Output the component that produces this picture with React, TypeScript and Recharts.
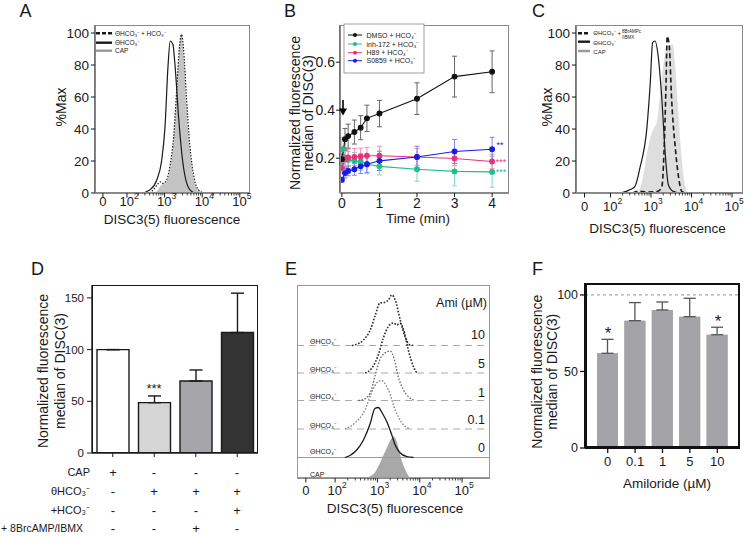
import React from "react";
import {
  ComposedChart,
  BarChart,
  Bar,
  Line,
  Area,
  XAxis,
  YAxis,
  ErrorBar,
  Cell,
  ReferenceLine,
} from "recharts";

const FONT = "'Liberation Sans', Arial, Helvetica, sans-serif";
const INK = "#1a1a1a";

// ---- logicle x axis (positions in decades) ----
const logTicks = [1.36, 2, 3, 4, 5];
const logTicksE = [1.31, 2, 3, 4, 5];
const logTickLabels = ["0", "10²", "10³", "10⁴", "10⁵"];
const supDigit: Record<string, string> = { "²": "2", "³": "3", "⁴": "4", "⁵": "5" };
const minorTicks = [2, 3, 4].flatMap((d) =>
  [2, 3, 4, 5, 6, 7, 8, 9].map((k) => d + Math.log10(k))
);

// ---- panel A: %Max histograms ----
const aTheta = [[2.45, 0], [2.53, 1], [2.61, 2], [2.79, 8], [2.92, 20], [3.01, 41], [3.09, 79], [3.15, 95], [3.22, 93], [3.28, 79], [3.37, 48], [3.48, 20], [3.59, 6], [3.72, 1], [3.85, 0]];
const aThetaHco3 = [[2.6, 0], [2.7, 2], [2.8, 5], [2.88, 7], [2.95, 6], [3.05, 8], [3.15, 18], [3.24, 35], [3.33, 68], [3.39, 90], [3.45, 99], [3.51, 88], [3.58, 60], [3.67, 30], [3.78, 10], [3.9, 2], [4.05, 0]];
const aCap = [[2.75, 0], [2.79, 1], [2.92, 5], [3.03, 6.5], [3.15, 16], [3.24, 33], [3.33, 66], [3.39, 89], [3.44, 100], [3.5, 87], [3.57, 58], [3.66, 29], [3.77, 9], [3.9, 1.5], [4.03, 0]];

// ---- panel C ----
const cTheta = [[2.25, 0], [2.48, 2], [2.6, 4], [2.73, 16], [2.9, 41], [2.98, 68], [3.04, 94], [3.1, 95], [3.18, 85], [3.27, 58], [3.35, 25], [3.43, 5], [3.55, 1], [3.72, 0]];
const cThetaBr = [[2.55, 0], [2.7, 1.2], [2.9, 0.6], [3.12, 0.8], [3.2, 1.5], [3.27, 4], [3.32, 25], [3.37, 67], [3.4, 98], [3.45, 92], [3.51, 58], [3.6, 28], [3.68, 10], [3.76, 1], [3.85, 0]];
const cCap = [[2.6, 0], [2.69, 1], [2.81, 11], [2.94, 30], [3.06, 40], [3.14, 44], [3.22, 60], [3.31, 81], [3.43, 92], [3.54, 93], [3.59, 81], [3.68, 48], [3.76, 21], [3.84, 5], [3.92, 0]];

// ---- panel B: time course ----
const bTimes = [0, 0.083, 0.167, 0.333, 0.5, 0.667, 1, 2, 3, 4];
const bDmso = [0.196, 0.279, 0.292, 0.309, 0.327, 0.366, 0.386, 0.448, 0.54, 0.56];
const bDmsoErr = [0.02, 0.045, 0.05, 0.05, 0.05, 0.055, 0.055, 0.066, 0.085, 0.087];
const bInh = [0.237, 0.203, 0.193, 0.189, 0.185, 0.175, 0.166, 0.154, 0.145, 0.143];
const bInhErr = [0.05, 0.04, 0.035, 0.035, 0.035, 0.04, 0.036, 0.05, 0.06, 0.064];
const bH89 = [0.159, 0.196, 0.203, 0.205, 0.207, 0.21, 0.21, 0.205, 0.199, 0.186];
const bH89Err = [0.02, 0.035, 0.035, 0.035, 0.035, 0.035, 0.04, 0.035, 0.03, 0.03];
const bS0859 = [0.11, 0.138, 0.147, 0.154, 0.166, 0.175, 0.189, 0.205, 0.228, 0.237];
const bS0859Err = [0.01, 0.02, 0.02, 0.025, 0.03, 0.035, 0.04, 0.045, 0.05, 0.05];

// ---- panel D ----
const dCats = ["CAP", "ThetaHCO3", "ThetaHCO3+Br", "ThetaHCO3+HCO3"];
const dValues = [100, 48.7, 69.7, 116.5];
const dErr = [0, 6.5, 10.6, 38.1];
const dFills = ["#ffffff", "#d5d5d5", "#a5a5aa", "#333333"];
const dRowLabels = ["CAP", "θHCO₃⁻", "+HCO₃⁻", "+ 8BrcAMP/IBMX"];
const dRowMarks = [
  ["+", "-", "-", "-"],
  ["-", "+", "+", "+"],
  ["-", "-", "-", "+"],
  ["-", "-", "+", "-"],
];

// ---- panel E: offset histograms (heights in %Max) ----
const eAmi = ["0", "0.1", "1", "5", "10"];
const eOffsets = [41, 98, 155, 210, 265];
const eCap = [[2.7, 0], [2.79, 2], [2.95, 12], [3.06, 30], [3.22, 60], [3.34, 80], [3.38, 83], [3.42, 80], [3.49, 63], [3.57, 36], [3.68, 13], [3.77, 1], [3.85, 0]];
const eAmi0 = [[2.23, 0], [2.35, 4], [2.51, 15], [2.67, 35], [2.83, 68], [2.94, 98], [3.02, 100], [3.12, 88], [3.24, 68], [3.34, 45], [3.42, 25], [3.54, 9], [3.69, 2], [3.85, 0]];
const eAmi01 = [[2.23, 0], [2.47, 12], [2.71, 39], [2.87, 75], [3.02, 95], [3.1, 97], [3.14, 95], [3.26, 78], [3.42, 38], [3.58, 12], [3.77, 0]];
const eAmi1 = [[2.55, 0], [2.67, 2], [2.83, 15], [2.94, 48], [3.06, 82], [3.18, 95], [3.3, 99], [3.4, 82], [3.49, 48], [3.61, 22], [3.77, 5], [3.89, 0]];
const eAmi5 = [[2.71, 0], [2.87, 10], [3.02, 36], [3.14, 70], [3.26, 93], [3.38, 100], [3.46, 96], [3.53, 100], [3.64, 80], [3.73, 46], [3.85, 13], [3.93, 0]];
const eAmi10 = [[2.4, 0], [2.47, 1.4], [2.67, 11], [2.83, 31], [2.94, 58], [3.06, 85], [3.16, 86], [3.26, 91], [3.34, 101], [3.42, 91], [3.54, 51], [3.65, 18], [3.77, 1.4], [3.85, 0]];

// ---- panel F ----
const fCats = ["0", "0.1", "1", "5", "10"];
const fValues = [61.9, 83.2, 90.2, 85.8, 74];
const fErr = [9.1, 11.8, 5.2, 12, 4.9];

const pts = (a: number[][], off = 0) => a.map(([x, y]) => ({ x, y: y + off }));

function place(x0: number, y0: number, x1: number, y1: number, yW: number, xH: number) {
  return {
    style: { position: "absolute" as const, left: x0 - yW, top: y0 - 5 },
    width: yW + (x1 - x0) + 5,
    height: 5 + (y1 - y0) + xH + 5,
    margin: { top: 5, right: 5, bottom: 5, left: 0 },
  };
}

function LogTick(props: any) {
  const { x, y, payload, majors, dy } = props;
  const i = majors.indexOf(payload.value);
  if (i < 0) return <line x1={x} x2={x} y1={y} y2={y + 2.5} stroke={INK} strokeWidth={0.8} />;
  const lab: string = logTickLabels[i];
  return (
    <g>
      <line x1={x} x2={x} y1={y} y2={y + 4.5} stroke={INK} strokeWidth={1} />
      {lab === "0" ? (
        <text x={x} y={y + dy} textAnchor="middle" dominantBaseline="central" fontSize={13} fill={INK} fontFamily={FONT}>
          0
        </text>
      ) : (
        <text x={x - 7.5} y={y + dy} dominantBaseline="central" fontSize={13} fill={INK} fontFamily={FONT}>
          10
          <tspan fontSize={8.5} dy={-5}>{supDigit[lab[2]]}</tspan>
        </text>
      )}
    </g>
  );
}

const axisLine = { stroke: INK, strokeWidth: 1.2 };
const yTick = (size: number) => ({ fontSize: size, fill: INK, fontFamily: FONT });

function Histo(props: {
  rect: [number, number, number, number];
  cap: number[][];
  capFill: string;
  solid: number[][];
  other: number[][];
  otherDash: string;
  otherWidth: number;
  dy: number;
}) {
  const [x0, y0, x1, y1] = props.rect;
  return (
    <ComposedChart {...place(x0, y0, x1, y1, 95, 30)}>
      <XAxis
        type="number"
        dataKey="x"
        domain={[1.15, 5.27]}
        ticks={[...logTicks, ...minorTicks]}
        interval={0}
        tickLine={false}
        tickSize={0}
        tickMargin={0}
        tick={<LogTick majors={logTicks} dy={props.dy} />}
        axisLine={axisLine}
        height={30}
        allowDataOverflow
      />
      <YAxis
        type="number"
        domain={[0, 105]}
        ticks={[0, 20, 40, 60, 80, 100]}
        width={95}
        tick={yTick(13.5)}
        tickSize={4}
        tickMargin={2}
        axisLine={axisLine}
        tickLine={{ stroke: INK }}
        allowDataOverflow
      />
      <Area data={pts(props.cap)} dataKey="y" type="monotone" fill={props.capFill} fillOpacity={1} stroke="none" isAnimationActive={false} />
      <Line data={pts(props.solid)} dataKey="y" type="monotone" stroke={INK} strokeWidth={1.2} dot={false} isAnimationActive={false} />
      <Line data={pts(props.other)} dataKey="y" type="monotone" stroke={INK} strokeWidth={props.otherWidth} strokeDasharray={props.otherDash} dot={false} isAnimationActive={false} />
    </ComposedChart>
  );
}

const bData = bTimes.map((t, i) => ({
  t,
  dmso: bDmso[i],
  dmsoErr: bDmsoErr[i],
  inh: bInh[i],
  inhErr: bInhErr[i],
  h89: bH89[i],
  h89Err: bH89Err[i],
  s0859: bS0859[i],
  s0859Err: bS0859Err[i],
}));

const bSeries = [
  { key: "inh", color: "#1fbf8c", err: "#7fdcb8" },
  { key: "h89", color: "#e6337c", err: "#f28bb3" },
  { key: "s0859", color: "#1a1ae8", err: "#8080f0" },
  { key: "dmso", color: "#111111", err: "#666666" },
];

function PanelB() {
  return (
    <ComposedChart {...place(340, 25, 509, 193, 50, 30)} data={bData}>
      <XAxis type="number" dataKey="t" domain={[-0.05, 4.45]} ticks={[0, 1, 2, 3, 4]} tick={yTick(14)} tickSize={4} tickMargin={1} axisLine={axisLine} tickLine={{ stroke: INK }} height={30} allowDataOverflow />
      <YAxis type="number" domain={[0.055, 0.755]} ticks={[0.2, 0.4, 0.6]} tickFormatter={(v: number) => v.toFixed(1)} width={50} tick={yTick(14)} tickSize={4} tickMargin={1} axisLine={axisLine} tickLine={{ stroke: INK }} allowDataOverflow />
      {bSeries.map((s) => (
        <Line key={s.key} dataKey={s.key} type="linear" stroke={s.color} strokeWidth={1.1} dot={{ r: 2.4, fill: s.color, stroke: s.color }} isAnimationActive={false}>
          <ErrorBar dataKey={s.key + "Err"} width={2.5} stroke={s.err} strokeWidth={1} />
        </Line>
      ))}
    </ComposedChart>
  );
}

const dData = dCats.map((c, i) => ({ c, v: dValues[i], e: [0, dErr[i]] }));

function PanelD() {
  return (
    <BarChart {...place(92, 285, 258, 453, 40, 10)} data={dData}>
      <XAxis dataKey="c" tickFormatter={() => ""} tickSize={4} axisLine={{ stroke: INK, strokeWidth: 1.4 }} tickLine={{ stroke: INK }} height={10} />
      <YAxis type="number" domain={[0, 162.5]} ticks={[0, 50, 100, 150]} width={40} tick={yTick(11.5)} tickSize={5} tickMargin={3} axisLine={{ stroke: INK, strokeWidth: 1.4 }} tickLine={{ stroke: INK }} allowDataOverflow />
      <Bar dataKey="v" barSize={32} stroke={INK} strokeWidth={1.4} isAnimationActive={false}>
        {dData.map((d, i) => (
          <Cell key={d.c} fill={dFills[i]} />
        ))}
        <ErrorBar dataKey="e" width={6.5} stroke={INK} strokeWidth={1.4} />
      </Bar>
    </BarChart>
  );
}

function PanelE() {
  const curves = [
    { d: eAmi0, color: INK, dash: undefined, w: 1.3 },
    { d: eAmi01, color: "#808080", dash: "1.6 1.6", w: 1.3 },
    { d: eAmi1, color: "#666666", dash: "1.6 1.6", w: 1.3 },
    { d: eAmi5, color: "#2a2a2a", dash: "1.6 1.6", w: 1.6 },
    { d: eAmi10, color: "#2a2a2a", dash: "1.6 1.6", w: 1.6 },
  ];
  return (
    <ComposedChart {...place(297, 285, 490, 478, 0, 30)}>
      <XAxis
        type="number"
        dataKey="x"
        domain={[1.1, 5.66]}
        ticks={[...logTicksE, ...minorTicks]}
        interval={0}
        tickLine={false}
        tickSize={0}
        tickMargin={0}
        tick={<LogTick majors={logTicksE} dy={12} />}
        axisLine={axisLine}
        height={30}
        allowDataOverflow
      />
      <YAxis type="number" domain={[0, 386]} hide allowDataOverflow />
      {eOffsets.map((off, i) => (
        <ReferenceLine key={eAmi[i]} y={off} stroke={i === 0 ? "#999" : "#aaa"} strokeDasharray={i === 0 ? undefined : "7 5"} strokeWidth={1} />
      ))}
      <Area data={pts(eCap)} dataKey="y" type="monotone" fill="#a8a8a8" fillOpacity={1} stroke="none" isAnimationActive={false} />
      {curves.map((c, i) => (
        <Line key={eAmi[i]} data={pts(c.d, eOffsets[i])} dataKey="y" type="monotone" stroke={c.color} strokeWidth={c.w} strokeDasharray={c.dash} dot={false} isAnimationActive={false} />
      ))}
    </ComposedChart>
  );
}

const fData = fCats.map((c, i) => ({ c, v: fValues[i], e: [0, fErr[i]] }));

function PanelF() {
  return (
    <BarChart {...place(585, 283, 740, 448, 50, 40)} data={fData}>
      <XAxis xAxisId="a" dataKey="c" padding={{ left: 9, right: 9 }} tick={yTick(13)} tickSize={5} tickMargin={4} axisLine={{ stroke: "#111", strokeWidth: 2 }} tickLine={{ stroke: "#111", strokeWidth: 1.3 }} height={40} />
      <XAxis xAxisId="b" dataKey="c" padding={{ left: 9, right: 9 }} hide />
      <YAxis type="number" domain={[0, 107.8]} ticks={[0, 50, 100]} width={50} tick={yTick(12.5)} tickSize={5} tickMargin={2} axisLine={{ stroke: "#111", strokeWidth: 2 }} tickLine={{ stroke: "#111", strokeWidth: 1.3 }} allowDataOverflow />
      <ReferenceLine xAxisId="a" y={100} stroke="#aaa" strokeDasharray="3 3" strokeWidth={1.2} />
      <Bar xAxisId="a" dataKey="v" barSize={21} fill="#a4a4a8" isAnimationActive={false}>
        <ErrorBar dataKey="e" width={6} stroke="#555" strokeWidth={1.3} />
      </Bar>
      <Bar xAxisId="b" dataKey="v" barSize={21} fill="#a4a4a8" isAnimationActive={false} />
    </BarChart>
  );
}

function Box(p: { x0: number; y0: number; x1: number; y1: number; border: string }) {
  return (
    <div
      style={{
        position: "absolute",
        left: p.x0,
        top: p.y0,
        width: p.x1 - p.x0,
        height: p.y1 - p.y0,
        border: p.border,
        boxSizing: "border-box",
        pointerEvents: "none",
      }}
    />
  );
}

const T = (p: { x: number; y: number; s: number; a?: "start" | "middle" | "end"; r?: boolean; fill?: string; children: React.ReactNode }) => (
  <text
    x={p.r ? 0 : p.x}
    y={p.r ? 0 : p.y}
    transform={p.r ? `translate(${p.x},${p.y}) rotate(-90)` : undefined}
    fontSize={p.s}
    textAnchor={p.a ?? "middle"}
    dominantBaseline="central"
    fill={p.fill ?? INK}
    fontFamily={FONT}
  >
    {p.children}
  </text>
);

const bLegend = [
  { label: "DMSO + HCO₃⁻", color: "#111111" },
  { label: "inh-172 + HCO₃⁻", color: "#1fbf8c" },
  { label: "H89 + HCO₃⁻", color: "#e6337c" },
  { label: "S0859 + HCO₃⁻", color: "#1a1ae8" },
];
const bLegendY = [35, 44, 52.7, 60.7];
const dColX = [113, 154, 196, 237];
const dRowY = [472, 491, 510, 528];
const eLabelY = [451.7, 425, 396.7, 369.3, 341.7];
const eAmiY = [448.3, 420, 393, 363.7, 335];

function Overlay() {
  return (
    <svg width={745} height={537} style={{ position: "absolute", left: 0, top: 0, pointerEvents: "none" }}>
      {/* panel letters */}
      <T x={25.5} y={10.5} s={18}>A</T>
      <T x={290} y={10.5} s={18}>B</T>
      <T x={538.5} y={10.5} s={18}>C</T>
      <T x={37.5} y={269} s={18}>D</T>
      <T x={291} y={269} s={18}>E</T>
      <T x={537.5} y={269} s={18}>F</T>

      {/* A */}
      <T x={61} y={107} s={14} r>%Max</T>
      <T x={172} y={219} s={13.5}>DISC3(5) fluorescence</T>
      <line x1={96} x2={112} y1={33.3} y2={33.3} stroke={INK} strokeWidth={2.4} strokeDasharray="4 2" />
      <line x1={96} x2={112} y1={42.7} y2={42.7} stroke={INK} strokeWidth={2.4} />
      <line x1={96} x2={112} y1={50.7} y2={50.7} stroke="#999" strokeWidth={2.4} />
      <T x={115} y={33.3} s={6.5} a="start">ΘHCO₃⁻ + HCO₃⁻</T>
      <T x={115} y={42.7} s={6.5} a="start">ΘHCO₃⁻</T>
      <T x={115} y={50.7} s={6.5} a="start">CAP</T>

      {/* B */}
      <T x={295} y={113} s={14} r>Normalized fluorescence</T>
      <T x={308.3} y={113} s={14} r>median of DISC(3)</T>
      <T x={418} y={218} s={13.5}>Time (min)</T>
      <rect x={344} y={24} width={80} height={49} fill="#fff" stroke="#888" strokeWidth={0.8} />
      {bLegend.map((l, i) => (
        <g key={l.label}>
          <line x1={348} x2={362} y1={bLegendY[i]} y2={bLegendY[i]} stroke={l.color} strokeWidth={1} />
          <circle cx={355} cy={bLegendY[i]} r={2} fill={l.color} />
          <T x={366.5} y={bLegendY[i]} s={7} a="start">{l.label}</T>
        </g>
      ))}
      <line x1={343} x2={343} y1={100} y2={110} stroke="#000" strokeWidth={1.6} />
      <polygon points="339,108.5 347,108.5 343,115.5" fill="#000" />
      <T x={500} y={145} s={9} fill="#1a1ae8">**</T>
      <T x={501} y={162.3} s={9} fill="#e6337c">***</T>
      <T x={501} y={172.3} s={9} fill="#1fbf8c">***</T>

      {/* C */}
      <T x={546.7} y={107} s={14} r>%Max</T>
      <T x={657.5} y={228} s={13.5}>DISC3(5) fluorescence</T>
      <line x1={578} x2={590} y1={33.3} y2={33.3} stroke={INK} strokeWidth={2.4} strokeDasharray="4 2" />
      <line x1={578} x2={590} y1={41.7} y2={41.7} stroke={INK} strokeWidth={2.4} />
      <line x1={578} x2={590} y1={51} y2={51} stroke="#999" strokeWidth={2.4} />
      <T x={593.3} y={33.3} s={6} a="start">ΘHCO₃⁻ +</T>
      <T x={622} y={31.5} s={4.5} a="start">8BrAMPc</T>
      <T x={622} y={37.5} s={4.5} a="start">/IBMX</T>
      <T x={593.3} y={43.3} s={6} a="start">ΘHCO₃⁻</T>
      <T x={593.3} y={51.7} s={6} a="start">CAP</T>

      {/* D */}
      <T x={43} y={371} s={14} r>Normalized fluorescence</T>
      <T x={60} y={371} s={14} r>median of DISC(3)</T>
      <T x={154} y={388} s={13}>***</T>
      {dRowLabels.map((lab, r) => (
        <g key={lab}>
          <T x={r === 3 ? 83 : 90} y={dRowY[r]} s={r === 3 ? 10.5 : 11} a="end">{lab}</T>
          {dRowMarks[r].map((m, c) => (
            <T key={c} x={dColX[c]} y={dRowY[r]} s={13}>{m}</T>
          ))}
        </g>
      ))}

      {/* E */}
      <T x={395} y={508.3} s={13.5}>DISC3(5) fluorescence</T>
      <T x={487} y={302.5} s={12.5} a="end">Ami (µM)</T>
      {eAmi.map((a, i) => (
        <g key={a}>
          <T x={485} y={eAmiY[i]} s={12.5} a="end">{a}</T>
          <T x={310} y={eLabelY[i]} s={7} a="start">ΘHCO₃⁻</T>
        </g>
      ))}
      <T x={310} y={474} s={7} a="start">CAP</T>

      {/* F */}
      <T x={536.7} y={371.7} s={14} r>Normalized fluorescence</T>
      <T x={551.7} y={371.7} s={14} r>median of DISC(3)</T>
      <T x={667} y={483} s={13.5}>Amiloride (µM)</T>
      <T x={608} y={333} s={17}>*</T>
      <T x={718} y={321} s={17}>*</T>
    </svg>
  );
}

export default function App() {
  return (
    <div style={{ position: "absolute", left: 0, top: 0, width: 745, height: 537, background: "#fff", overflow: "hidden", fontFamily: FONT }}>
      <Histo rect={[95, 25, 250, 193]} cap={aCap} capFill="#c4c4c4" solid={aTheta} other={aThetaHco3} otherDash="1.5 1.5" otherWidth={1.2} dy={8} />
      <Histo rect={[576, 25, 743, 193]} cap={cCap} capFill="#dedede" solid={cTheta} other={cThetaBr} otherDash="5 3" otherWidth={1.6} dy={13} />
      <PanelB />
      <PanelD />
      <PanelE />
      <PanelF />
      <Box x0={95} y0={25} x1={250} y1={193} border="1px solid #888" />
      <Box x0={340} y0={25} x1={509} y1={193} border="1px solid #888" />
      <Box x0={576} y0={25} x1={743} y1={193} border="1px solid #888" />
      <Box x0={92} y0={285} x1={258} y1={453} border="1.4px solid #1a1a1a" />
      <Box x0={297} y0={285} x1={490} y1={478} border="1px solid #999" />
      <Box x0={585} y0={283} x1={740} y1={448} border="2px solid #111" />
      <Overlay />
    </div>
  );
}
